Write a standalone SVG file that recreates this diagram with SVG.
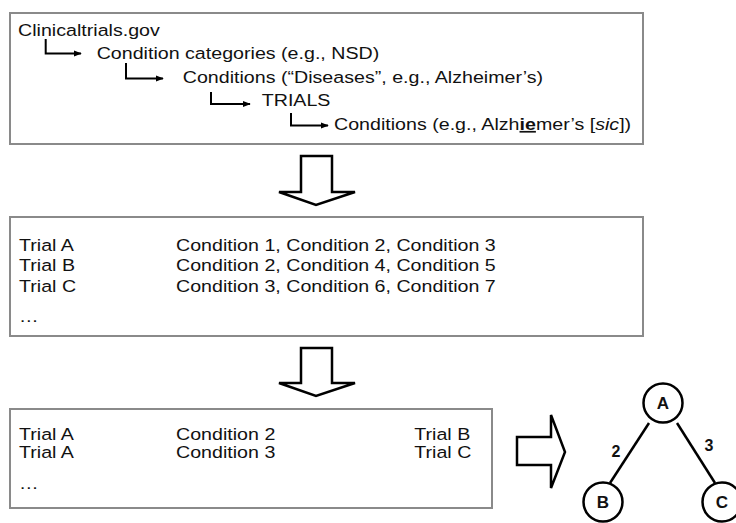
<svg xmlns="http://www.w3.org/2000/svg" width="736" height="523" viewBox="0 0 736 523">
  <style>
    .box { fill: #fff; stroke: #8a8a8a; stroke-width: 2; }
    .t { font-family: "Liberation Sans", Arial, sans-serif; font-size: 17px; fill: #111; }
    .bigarrow { fill: #fff; stroke: #000; stroke-width: 2.5; stroke-linejoin: miter; }
    .elbow { fill: none; stroke: #000; stroke-width: 2; marker-end: url(#tip); }
    .edge { stroke: #000; stroke-width: 2.5; }
    .circ { fill: #fff; stroke: #000; stroke-width: 2.5; }
    .lbl { font-family: "Liberation Sans", Arial, sans-serif; font-size: 17px; font-weight: bold; fill: #111; }
    .num { font-family: "Liberation Sans", Arial, sans-serif; font-size: 16px; font-weight: bold; fill: #111; }
  </style>
  <defs>
    <marker id="tip" viewBox="0 0 10 10" refX="9" refY="5" markerWidth="4" markerHeight="4" orient="auto" markerUnits="strokeWidth">
      <path d="M0,1 L10,5 L0,9 Z" fill="#000"/>
    </marker>
  </defs>

  <!-- Box 1: source hierarchy -->
  <g id="source-box">
    <rect class="box" x="10" y="13" width="633" height="131"/>
    <g transform="scale(1.155 1)">
      <text class="t" x="15.6" y="36">Clinicaltrials.gov</text>
      <text class="t" x="83.7" y="59">Condition categories (e.g., NSD)</text>
      <text class="t" x="158.2" y="83">Conditions (“Diseases”, e.g., Alzheimer’s)</text>
      <text class="t" x="226.6" y="106">TRIALS</text>
      <text class="t" x="289.2" y="130">Conditions (e.g., Alzh<tspan font-weight="bold" text-decoration="underline">ie</tspan>mer’s [<tspan font-style="italic">sic</tspan>])</text>
    </g>
  </g>

  <!-- Box 2: trial to condition lists -->
  <g id="trial-conditions-box">
    <rect class="box" x="10" y="217" width="633" height="119"/>
    <g transform="scale(1.155 1)">
      <text class="t" x="16.5" y="251">Trial A</text>
      <text class="t" x="152.4" y="251">Condition 1, Condition 2, Condition 3</text>
      <text class="t" x="16.5" y="271.5">Trial B</text>
      <text class="t" x="152.4" y="271.5">Condition 2, Condition 4, Condition 5</text>
      <text class="t" x="16.5" y="292">Trial C</text>
      <text class="t" x="152.4" y="292">Condition 3, Condition 6, Condition 7</text>
      <text class="t" x="16.5" y="322">…</text>
    </g>
  </g>

  <!-- Box 3: shared-condition pairs -->
  <g id="pairs-box">
    <rect class="box" x="10" y="409" width="482" height="99"/>
    <g transform="scale(1.155 1)">
      <text class="t" x="16.5" y="440">Trial A</text>
      <text class="t" x="152.4" y="440">Condition 2</text>
      <text class="t" x="358.7" y="440">Trial B</text>
      <text class="t" x="16.5" y="458.5">Trial A</text>
      <text class="t" x="152.4" y="458.5">Condition 3</text>
      <text class="t" x="358.7" y="458.5">Trial C</text>
      <text class="t" x="16.5" y="489">…</text>
    </g>
  </g>

  <!-- Network nodes -->
  <g id="node-A">
    <circle class="circ" cx="663" cy="403" r="19.5"/>
    <text class="lbl" x="663" y="409" text-anchor="middle">A</text>
  </g>
  <g id="node-B">
    <circle class="circ" cx="603" cy="502" r="19.5"/>
    <text class="lbl" x="603" y="508" text-anchor="middle">B</text>
  </g>
  <g id="node-C">
    <circle class="circ" cx="722" cy="502" r="19.5"/>
    <text class="lbl" x="722" y="508" text-anchor="middle">C</text>
  </g>

  <!-- Connectors -->
  <g id="connectors">
    <!-- hierarchy elbows -->
    <path class="elbow" d="M45.7,39 V53.5 H81"/>
    <path class="elbow" d="M126,63 V78.5 H163"/>
    <path class="elbow" d="M211,92 V104 H250"/>
    <path class="elbow" d="M291,113 V125.5 H328"/>
    <!-- block arrows -->
    <polygon class="bigarrow" points="301,156 332,156 332,192 355,192 316,205 279,192 301,192"/>
    <polygon class="bigarrow" points="301,348 332,348 332,383 355,383 316,396 279,383 301,383"/>
    <polygon class="bigarrow" points="517,437 551,437 551,415 565,452 551,488 551,465 517,465"/>
    <!-- network edges -->
    <line class="edge" x1="649" y1="423" x2="610" y2="483"/>
    <line class="edge" x1="677" y1="423" x2="715" y2="483"/>
    <text class="num" x="616" y="457" text-anchor="middle">2</text>
    <text class="num" x="709" y="451" text-anchor="middle">3</text>
  </g>
</svg>
